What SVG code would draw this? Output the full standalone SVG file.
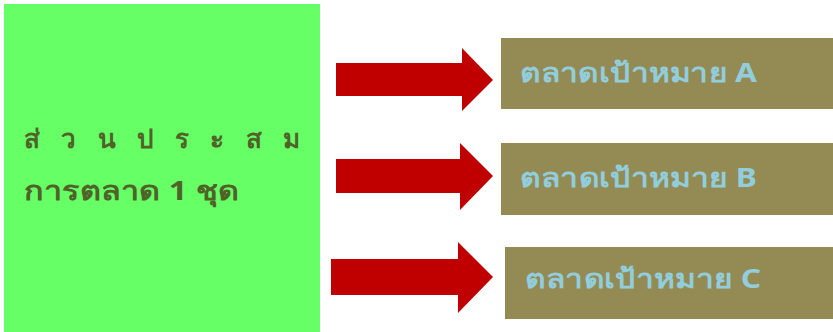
<svg xmlns="http://www.w3.org/2000/svg" width="833" height="332" viewBox="0 0 833 332">
<style>
.main{fill:#66FF66}
.mt{font-family:"Noto Sans","Liberation Sans",sans-serif;font-weight:bold;font-size:26px;fill:#4F6228}
.tgt{fill:#948A54}
.tt{font-family:"Noto Sans","Liberation Sans",sans-serif;font-weight:bold;font-size:26px;fill:#92CDDC}
.arr{fill:#C00000}
</style>
<rect width="833" height="332" fill="#FFFFFF"/>
<g id="mix">
<rect class="main" x="4" y="4" width="316" height="328"/>
<text class="mt" x="24" y="148" textLength="276" lengthAdjust="spacing">ส่ ว น ป ร ะ ส ม</text>
<text class="mt" x="24" y="200" textLength="215" lengthAdjust="spacingAndGlyphs">การตลาด 1 ชุด</text>
</g>
<g id="targetA">
<rect class="tgt" x="501" y="38" width="332" height="71"/>
<text class="tt" x="520" y="82" textLength="237" lengthAdjust="spacingAndGlyphs">ตลาดเป้าหมาย A</text>
</g>
<g id="targetB">
<rect class="tgt" x="501" y="143" width="332" height="72"/>
<text class="tt" x="520" y="187" textLength="237" lengthAdjust="spacingAndGlyphs">ตลาดเป้าหมาย B</text>
</g>
<g id="targetC">
<rect class="tgt" x="505" y="247" width="328" height="72"/>
<text class="tt" x="525" y="288" textLength="236" lengthAdjust="spacingAndGlyphs">ตลาดเป้าหมาย C</text>
</g>
<g id="connectors">
<polygon class="arr" points="336,63 462,63 462,48 493,80 462,111 462,96 336,96"/>
<polygon class="arr" points="336,159 460,159 460,143 493,176 460,210 460,193 336,193"/>
<polygon class="arr" points="331,259 458,259 458,242 493,277 458,313 458,295 331,295"/>
</g>
</svg>
